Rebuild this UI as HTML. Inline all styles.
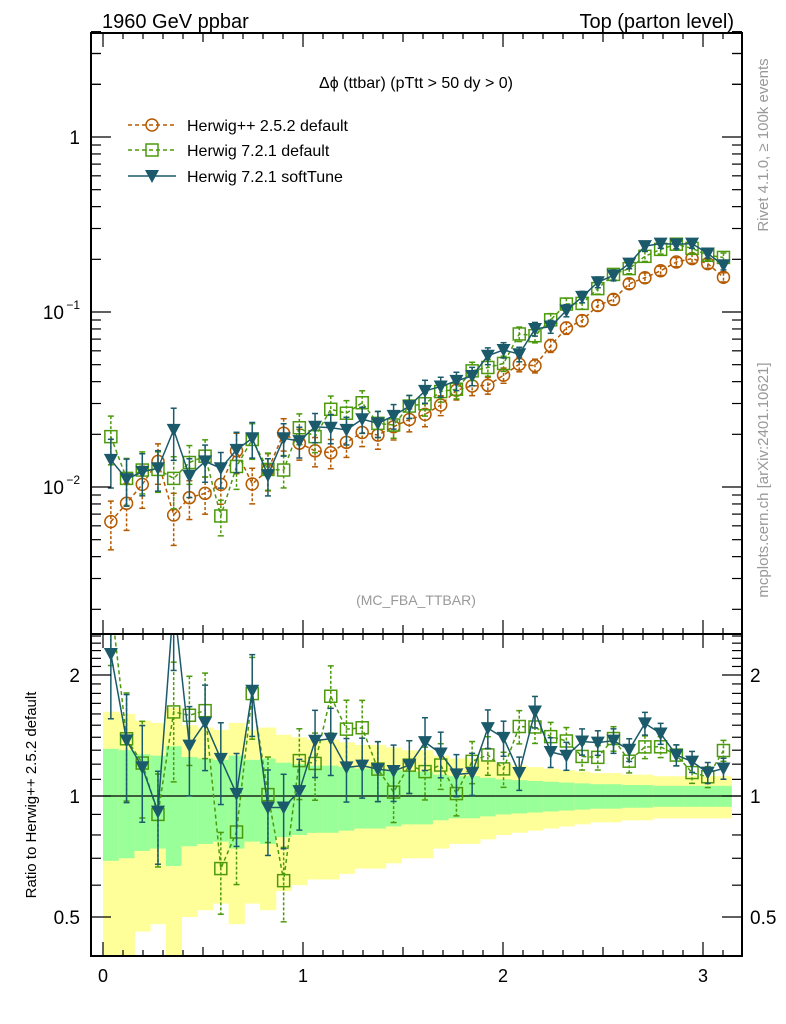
<!DOCTYPE html>
<html><head><meta charset="utf-8"><style>
html,body{margin:0;padding:0;background:#fff;}
svg{display:block;font-family:"Liberation Sans",Arial,sans-serif;}
</style></head><body>
<svg id="c" width="786" height="1024" viewBox="0 0 786 1024" xmlns="http://www.w3.org/2000/svg">
<text x="102" y="28" font-size="20">1960 GeV ppbar</text>
<text x="734" y="28" font-size="20" text-anchor="end">Top (parton level)</text>
<text x="416" y="88" font-size="16" text-anchor="middle">Δϕ (ttbar) (pTtt &gt; 50 dy &gt; 0)</text>
<text x="416" y="605" font-size="14" fill="#999" text-anchor="middle">(MC_FBA_TTBAR)</text>
<text transform="translate(768,145) rotate(-90)" font-size="15" fill="#999" text-anchor="middle">Rivet 4.1.0, ≥ 100k events</text>
<text transform="translate(768,480) rotate(-90)" font-size="15" fill="#999" text-anchor="middle">mcplots.cern.ch [arXiv:2401.10621]</text>
<text transform="translate(36,795) rotate(-90)" font-size="15" text-anchor="middle">Ratio to Herwig++ 2.5.2 default</text>
<g id="bands"></g>
<g id="marks"></g>
<g id="axes"></g>
<g id="legend"></g>
</svg>
<script>
const nBins = 40;
const xMax = Math.PI;
const herwigPP = [0.00634,0.00807,0.01035,0.0140,0.00692,0.00869,0.0092,0.01035,0.0161,0.0104,0.0125,0.0203,0.0178,0.0161,0.0157,0.0180,0.0205,0.0198,0.0221,0.0243,0.0260,0.0294,0.0357,0.0378,0.0381,0.0435,0.0503,0.0493,0.0642,0.0810,0.0893,0.109,0.118,0.145,0.157,0.172,0.193,0.202,0.189,0.158];
const herwig7 = [0.0194,0.0112,0.0125,0.0126,0.0112,0.0138,0.0150,0.00683,0.0131,0.0187,0.0126,0.0125,0.0218,0.0194,0.0278,0.0264,0.0303,0.0231,0.0226,0.0290,0.0299,0.0351,0.0362,0.0461,0.0482,0.0508,0.0749,0.0732,0.0902,0.111,0.112,0.136,0.164,0.177,0.208,0.228,0.244,0.231,0.211,0.205];
const softTune = [0.0143,0.0111,0.0122,0.0128,0.0212,0.0116,0.0140,0.0128,0.0163,0.0190,0.0117,0.0190,0.0183,0.0221,0.0218,0.0212,0.0244,0.0231,0.0255,0.0290,0.0354,0.0375,0.0404,0.0431,0.0562,0.0607,0.0574,0.0800,0.0826,0.102,0.122,0.148,0.162,0.189,0.238,0.246,0.244,0.246,0.216,0.185];
const relErr = [0.31,0.30,0.27,0.26,0.33,0.25,0.24,0.23,0.26,0.23,0.24,0.21,0.2,0.19,0.19,0.18,0.17,0.17,0.16,0.15,0.15,0.13,0.12,0.12,0.11,0.10,0.095,0.09,0.085,0.08,0.075,0.07,0.07,0.065,0.065,0.06,0.06,0.06,0.06,0.06];
const mainTickLabels = ["1","10","10"];
const xTickLabels = ["0","1","2","3"];
const ratioTickValues = [2,1,0.5];

const NS="http://www.w3.org/2000/svg";
const L=91,R=742,T=33,MB=634,RB=956;
function X(v){return 103+200*v;}
function YM(v){return 137-175*Math.log10(v);}
function YR(r){return 796-402*Math.log10(r);}
function mk(tag,attrs,parent){const e=document.createElementNS(NS,tag);for(const k in attrs)e.setAttribute(k,attrs[k]);parent.appendChild(e);return e;}
const bands=document.getElementById('bands'),marks=document.getElementById('marks'),axes=document.getElementById('axes'),legend=document.getElementById('legend');
const defs=mk('defs',{},document.getElementById('c'));
const cp1=mk('clipPath',{id:'cm'},defs);mk('rect',{x:L,y:T,width:R-L,height:MB-T},cp1);
const cp2=mk('clipPath',{id:'cr'},defs);mk('rect',{x:L,y:MB,width:R-L,height:RB-MB},cp2);
const bw=xMax/nBins;
function center(i){return (i+0.5)*bw;}

const gb=mk('g',{'clip-path':'url(#cr)'},bands);
for(let i=0;i<nBins;i++){
  const x0=X(i*bw),x1=X((i+1)*bw),e=relErr[i];
  const lo2=Math.max(1-2*e,0.05);
  const y=mk('rect',{x:x0,y:YR(1+2*e),width:x1-x0+0.5,height:YR(lo2)-YR(1+2*e),fill:'#ffff99'},gb);
  
  
  const g=mk('rect',{x:x0,y:YR(1+e),width:x1-x0+0.5,height:YR(1-e)-YR(1+e),fill:'#99ff99'},gb);
  
  
}
mk('line',{x1:L,x2:R,y1:YR(1),y2:YR(1),stroke:'#000','stroke-width':1.2},gb);

const series=[
 {name:'herwigpp',vals:herwigPP,col:'#b55a00',dash:'4,3',m:'circle'},
 {name:'herwig7',vals:herwig7,col:'#4c9a0c',dash:'4,3',m:'square'},
 {name:'softtune',vals:softTune,col:'#1b5a6a',dash:'',m:'tri'}
];
function marker(p,x,y,s){
  let el;
  if(s.m==='circle') el=mk('circle',{cx:x,cy:y,r:6,fill:'none',stroke:s.col,'stroke-width':1.5},p);
  else if(s.m==='square') el=mk('rect',{x:x-6,y:y-6,width:12,height:12,fill:'none',stroke:s.col,'stroke-width':1.5},p);
  else el=mk('path',{d:`M${x-7},${y-6}L${x+7},${y-6}L${x},${y+7}Z`,fill:s.col},p);
  return el;
}
function drawSeries(s,clip,yf,vals){
  const g=mk('g',{'clip-path':clip},marks);
  let pts=[];
  vals.forEach((v,i)=>{pts.push(X(center(i))+','+yf(v));});
  const pl=mk('polyline',{points:pts.join(' '),fill:'none',stroke:s.col,'stroke-width':1.5,'stroke-dasharray':s.dash},g);
  
  
  vals.forEach((v,i)=>{
    const x=X(center(i)),e=relErr[i];
    const y1=yf(v*(1+e)),y2=yf(v*(1-e));
    mk('line',{x1:x,x2:x,y1:y1,y2:y2,stroke:s.col,'stroke-width':1.5,'stroke-dasharray':s.dash?'3,2':''},g);
    mk('line',{x1:x-3,x2:x+3,y1:y1,y2:y1,stroke:s.col,'stroke-width':1.5},g);
    mk('line',{x1:x-3,x2:x+3,y1:y2,y2:y2,stroke:s.col,'stroke-width':1.5},g);
    const m=marker(g,x,yf(v),s);
    
    
  });
}
series.forEach(s=>drawSeries(s,'url(#cm)',YM,s.vals));
series.slice(1).forEach(s=>drawSeries(s,'url(#cr)',YR,s.vals.map((v,i)=>v/herwigPP[i])));

mk('rect',{x:L,y:T,width:R-L,height:MB-T,fill:'none',stroke:'#000','stroke-width':2},axes);
mk('rect',{x:L,y:MB,width:R-L,height:RB-MB,fill:'none',stroke:'#000','stroke-width':2},axes);
for(let k=0;k<=31;k++){
  const v=k/10,x=X(v);if(x>R)break;
  const len=(k%10===0)?14:(k%5===0?9:6);
  [[T,1],[MB,-1],[MB,1],[RB,-1]].forEach(([y,d])=>mk('line',{x1:x,x2:x,y1:y,y2:y+d*len,stroke:'#000','stroke-width':1.2},axes));
}
xTickLabels.forEach((t,i)=>{const el=mk('text',{x:X(i),y:982,'font-size':18,'text-anchor':'middle'},axes);el.textContent=t;

});
for(let d=-3;d<=0;d++){for(let m=1;m<=9;m++){
  const v=m*Math.pow(10,d),y=YM(v);if(y<T||y>MB)continue;
  const len=m===1?20:10;
  mk('line',{x1:L,x2:L+len,y1:y,y2:y,stroke:'#000','stroke-width':1.2},axes);
  mk('line',{x1:R,x2:R-len,y1:y,y2:y,stroke:'#000','stroke-width':1.2},axes);
}}
[2,3,4].forEach(m=>{const y=YM(m);mk('line',{x1:L,x2:L+10,y1:y,y2:y,stroke:'#000','stroke-width':1.2},axes);mk('line',{x1:R,x2:R-10,y1:y,y2:y,stroke:'#000','stroke-width':1.2},axes);});
mainTickLabels.forEach((t,i)=>{
  const y=YM(Math.pow(10,-i));
  const el=mk('text',{x:i===0?80:64,y:y+7,'font-size':19,'text-anchor':'end'},axes);
  el.textContent=t;
  
  
  if(i>0){const s=mk('text',{x:80,y:y-3,'font-size':12,'text-anchor':'end'},axes);s.textContent='−'+i;}
});
[0.5,0.6,0.7,0.8,0.9,1,1.1,1.2,1.3,1.4,1.5,1.6,1.7,1.8,1.9,2,2.1,2.2,2.3,2.4,2.5].forEach(v=>{
  const y=YR(v);if(y<MB||y>RB)return;
  const len=(v===1||v===2||v===0.5)?20:10;
  mk('line',{x1:L,x2:L+len,y1:y,y2:y,stroke:'#000','stroke-width':1.2},axes);
  mk('line',{x1:R,x2:R-len,y1:y,y2:y,stroke:'#000','stroke-width':1.2},axes);
});
ratioTickValues.forEach(v=>{
  const y=YR(v)+7;
  const a=mk('text',{x:80,y:y,'font-size':19,'text-anchor':'end'},axes);a.textContent=String(v);
  
  
  const b=mk('text',{x:750,y:y,'font-size':19},axes);b.textContent=String(v);
  
  
});
const labels=['Herwig++ 2.5.2 default','Herwig 7.2.1 default','Herwig 7.2.1 softTune'];
series.forEach((s,i)=>{
  const y=[125,150,176][i];
  const g=mk('g',{},legend);
  
  
  mk('line',{x1:128,x2:176,y1:y,y2:y,stroke:s.col,'stroke-width':1.5,'stroke-dasharray':s.dash},g);
  marker(g,152,y,s);
  const t=mk('text',{x:187,y:y+6,'font-size':16},g);t.textContent=labels[i];
});
</script>
</body></html>
